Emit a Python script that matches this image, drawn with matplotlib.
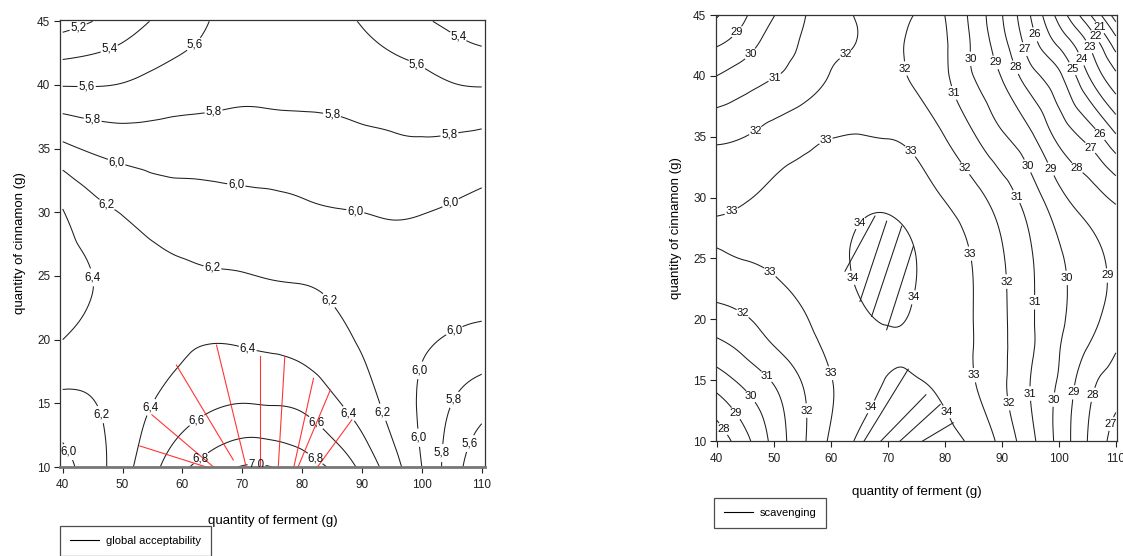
import numpy as np
import matplotlib
matplotlib.use('Agg')
import matplotlib.pyplot as plt
import matplotlib.tri as mtri
from matplotlib.lines import Line2D
from matplotlib.path import Path

plt.rcParams['font.family'] = ['Liberation Sans', 'DejaVu Sans']

# ---------------- data ----------------
ferment = [40, 45, 50, 55, 60, 65, 70, 75, 80, 85, 90, 95, 100, 105, 110]
cinnamon_acc = [10, 15, 20, 25, 30, 35, 40, 45]
cinnamon_scav = [10, 15, 17.5, 20, 25, 30, 35, 40, 42.5, 45]

# global acceptability, rows = cinnamon_acc, columns = ferment
acceptability = [
    [5.94, 6.10, 6.32, 6.54, 6.76, 6.90, 7.01, 7.00, 6.90, 6.77, 6.55, 6.29, 6.00, 5.70, 5.45],
    [6.14, 6.19, 6.29, 6.40, 6.50, 6.57, 6.60, 6.59, 6.56, 6.44, 6.30, 6.13, 5.97, 5.80, 5.68],
    [6.40, 6.33, 6.30, 6.30, 6.36, 6.39, 6.38, 6.36, 6.33, 6.26, 6.18, 6.10, 6.03, 5.98, 5.94],
    [6.46, 6.40, 6.32, 6.27, 6.24, 6.22, 6.21, 6.19, 6.18, 6.15, 6.10, 6.08, 6.07, 6.07, 6.08],
    [6.41, 6.27, 6.19, 6.12, 6.09, 6.075, 6.06, 6.05, 6.03, 6.01, 6.00, 5.985, 5.995, 6.02, 6.05],
    [6.05, 5.97, 5.925, 5.91, 5.91, 5.91, 5.91, 5.90, 5.89, 5.88, 5.86, 5.84, 5.83, 5.85, 5.88],
    [5.59, 5.59, 5.61, 5.66, 5.70, 5.727, 5.75, 5.75, 5.745, 5.737, 5.71, 5.686, 5.66, 5.61, 5.59],
    [5.12, 5.20, 5.30, 5.41, 5.50, 5.61, 5.67, 5.70, 5.68, 5.64, 5.59, 5.51, 5.43, 5.35, 5.27],
]

# scavenging, rows = cinnamon_scav, columns = ferment
scavenging = [
    [27.3, 28.7, 30.3, 31.8, 33.15, 34.15, 34.6, 34.6, 34.3, 33.8, 32.7, 31.3, 29.7, 28.0, 26.6],
    [29.5, 30.3, 31.1, 32.05, 32.95, 33.6, 34.03, 34.02, 33.8, 33.05, 32.2, 31.0, 29.9, 28.4, 27.6],
    [30.6, 31.2, 31.9, 32.55, 33.2, 33.7, 33.88, 33.9, 33.6, 33.0, 32.2, 31.15, 30.05, 28.95, 28.05],
    [31.55, 31.9, 32.45, 32.9, 33.4, 33.85, 34.05, 33.9, 33.5, 33.0, 32.2, 31.15, 30.2, 29.35, 28.6],
    [32.9, 33.02, 33.15, 33.4, 33.7, 34.15, 34.3, 34.0, 33.5, 32.95, 32.1, 31.1, 30.15, 29.4, 28.75],
    [32.85, 32.95, 33.15, 33.35, 33.5, 33.75, 33.8, 33.5, 32.95, 32.35, 31.5, 30.5, 29.3, 28.5, 27.8],
    [31.8, 32.0, 32.4, 32.7, 32.97, 33.03, 32.97, 32.7, 32.0, 31.1, 30.15, 29.2, 27.75, 26.7, 25.15],
    [30.0, 30.5, 30.95, 31.4, 32.05, 32.4, 32.35, 31.8, 31.15, 30.0, 28.95, 27.4, 26.2, 24.1, 22.2],
    [28.95, 29.6, 30.5, 31.1, 31.8, 32.05, 32.3, 31.7, 31.1, 29.85, 28.4, 26.55, 24.9, 23.1, 20.6],
    [27.9, 28.9, 29.95, 30.9, 31.5, 32.1, 32.2, 31.95, 31.0, 29.7, 28.05, 26.0, 23.65, 21.3, 18.5],
]

acc_levels = [5.2, 5.4, 5.6, 5.8, 6.0, 6.2, 6.4, 6.6, 6.8, 7.0]
scav_levels = [17, 18, 19, 20, 21, 22, 23, 24, 25, 26, 27, 28, 29, 30, 31, 32, 33, 34]

x_ticks = [40, 50, 60, 70, 80, 90, 100, 110]
y_ticks = [10, 15, 20, 25, 30, 35, 40, 45]

# red optimum-region lines (left chart)
red_x0 = [52.9, 54.9, 59.0, 65.7, 73.0, 77.1, 81.9, 84.7, 88.3]
red_y0 = [11.65, 14.1, 18.0, 19.57, 18.7, 18.65, 16.96, 16.04, 13.7]
red_x1 = [67.0, 65.7, 68.5, 70.7, 73.0, 76.0, 78.5, 79.1, 82.4]
red_y1 = [9.55, 9.8, 10.55, 9.9, 9.9, 9.9, 9.76, 9.76, 9.9]

# hatch lines in the >34 regions (right chart)
hatch_x0 = [67.77, 69.82, 72.46, 74.5, 73.6, 76.7, 79.2, 81.5]
hatch_y0 = [28.48, 28.06, 27.65, 26.0, 15.9, 13.8, 13.0, 11.5]
hatch_x1 = [62.51, 65.14, 67.19, 69.82, 65.6, 68.4, 71.7, 75.4]
hatch_y1 = [23.95, 21.47, 20.24, 19.14, 9.8, 9.8, 9.8, 9.8]

# contour label anchors: (ferment, cinnamon, level)
acc_labels = [(42.9, 44.1, 5.2), (47.9, 42.7, 5.4), (44.0, 39.5, 5.6), (62.1, 43.1, 5.6),
              (45.0, 37.3, 5.8), (65.2, 38.0, 5.8), (85.0, 37.8, 5.8), (104.6, 36.3, 5.8),
              (49.0, 33.9, 6.0), (69.0, 32.2, 6.0), (88.9, 30.0, 6.0), (104.6, 30.9, 6.0),
              (98.6, 41.0, 5.6), (105.9, 43.6, 5.4), (47.4, 30.7, 6.2), (44.9, 24.9, 6.4),
              (65.0, 25.8, 6.2), (83.9, 22.9, 6.2), (93.5, 14.3, 6.2), (105.2, 21.0, 6.0),
              (100.0, 17.6, 6.0), (99.0, 12.3, 6.0), (105.2, 15.3, 5.8), (103.4, 11.1, 5.8),
              (107.7, 11.9, 5.6), (46.9, 14.2, 6.2), (41.7, 11.3, 6.0), (55.0, 14.6, 6.4),
              (70.8, 19.0, 6.4), (87.7, 14.2, 6.4), (62.7, 13.5, 6.6), (81.9, 13.3, 6.6),
              (63.3, 10.6, 6.8), (82.2, 10.6, 6.8), (72.4, 10.1, 7.0)]
scav_labels = [(43.2, 43.8, 29), (46.4, 41.6, 30), (50.2, 39.8, 31), (47.2, 35.2, 32),
               (63.4, 41.2, 32), (72.5, 40.6, 32), (42.8, 28.7, 33), (59.3, 34.5, 33),
               (73.6, 33.7, 33), (84.4, 41.4, 30), (88.5, 41.0, 29), (91.9, 40.6, 28),
               (93.8, 42.2, 27), (96.2, 43.4, 26), (101.8, 40.4, 25), (103.4, 41.3, 24),
               (105.1, 42.4, 23), (106.6, 43.3, 22), (108.0, 44.2, 21), (81.8, 38.6, 31),
               (84.1, 32.5, 32), (94.1, 32.5, 30), (98.5, 32.3, 29), (103.2, 32.4, 28),
               (105.2, 34.0, 27), (107.3, 35.2, 26), (92.0, 29.9, 31), (65.2, 27.9, 34),
               (62.5, 23.2, 34), (74.4, 21.8, 34), (84.4, 25.4, 33), (91.1, 23.1, 32),
               (96.4, 21.4, 31), (101.5, 23.4, 30), (108.1, 23.6, 29), (49.4, 24.0, 33),
               (44.6, 20.5, 32), (49.0, 15.4, 31), (46.4, 13.8, 30), (43.8, 12.4, 29),
               (41.5, 11.1, 28), (55.6, 12.5, 32), (60.2, 15.6, 33), (67.4, 12.7, 34),
               (80.2, 12.4, 34), (85.0, 15.4, 33), (90.9, 13.1, 32), (95.0, 13.9, 31),
               (98.8, 13.4, 30), (102.5, 14.0, 29), (106.6, 13.7, 28), (108.5, 11.5, 27)]

LINE_COLOR = '#1e1e1e'
W, H = 1123, 556


def smooth_surface(x, y, z):
    X, Y = np.meshgrid(x, y)
    tri = mtri.Triangulation(X.ravel(), Y.ravel())
    interp = mtri.CubicTriInterpolator(tri, np.asarray(z, float).ravel(), kind='min_E')
    xf = np.linspace(x[0], x[-1], 351)
    yf = np.linspace(y[0], y[-1], 351)
    XF, YF = np.meshgrid(xf, yf)
    return XF, YF, interp(XF, YF)


def style_axes(ax, xlim, ylim):
    ax.set_xlim(*xlim)
    ax.set_ylim(*ylim)
    ax.set_xticks(x_ticks)
    ax.set_yticks(y_ticks)
    ax.tick_params(direction='out', length=4, width=0.8, labelsize=8.5, colors='#222222')
    ax.tick_params(axis='x', pad=5)
    ax.tick_params(axis='y', pad=3)
    for s in ax.spines.values():
        s.set_linewidth(0.9)
        s.set_color('#333333')


def put_labels(ax, cs, anchors, fmt, size=8.3):
    """Snap each anchor onto the contour of its own level, then label there."""
    levels = np.asarray(cs.levels, float)
    paths = cs.get_paths()
    pts = []
    for x, y, lev in anchors:
        i = int(np.argmin(np.abs(levels - lev)))
        p = paths[i]
        verts = p.vertices
        if p.codes is not None:
            verts = verts[p.codes != Path.CLOSEPOLY]
        if len(verts) == 0:
            continue
        disp = ax.transData.transform(verts)
        target = ax.transData.transform((x, y))
        j = int(np.argmin(((disp - target) ** 2).sum(axis=1)))
        pts.append((float(verts[j][0]), float(verts[j][1])))
    texts = ax.clabel(cs, manual=pts, inline=True, inline_spacing=1,
                      fontsize=size, fmt=fmt, colors='#111111')
    for t in texts:
        t.set_rotation(0)


fig = plt.figure(figsize=(W / 100, H / 100), dpi=100)

# ---------------- left chart ----------------
ax1 = fig.add_axes([60 / W, 1 - 467 / H, (485 - 60) / W, (467 - 20) / H])
style_axes(ax1, (39.55, 110.55), (10, 45.1))
XF, YF, ZF = smooth_surface(ferment, cinnamon_acc, acceptability)
cs1 = ax1.contour(XF, YF, ZF, levels=acc_levels, colors=LINE_COLOR, linewidths=0.75)
ax1.set_xlim(39.55, 110.55)
ax1.set_ylim(10, 45.1)
put_labels(ax1, cs1, acc_labels, lambda v: f"{v:.1f}".replace('.', ','))
for a, b, c, d in zip(red_x0, red_y0, red_x1, red_y1):
    ax1.plot([a, c], [b, d], color='#ff2020', lw=0.8, alpha=0.9)
ax1.set_xlim(39.55, 110.55)
ax1.set_ylim(10, 45.1)
ax1.spines['bottom'].set_linewidth(2.0)
ax1.spines['bottom'].set_color('#777777')
ax1.set_xlabel('quantity of ferment (g)', fontsize=9.5, labelpad=17)
ax1.set_ylabel('quantity of cinnamon (g)', fontsize=9.5, labelpad=8)
leg1 = ax1.legend(handles=[Line2D([], [], color='k', lw=0.8)], labels=['global acceptability'],
                  loc='upper left', bbox_to_anchor=(60 / W, 1 - 526 / H), bbox_transform=fig.transFigure,
                  fontsize=8, frameon=True, fancybox=False, handlelength=2.6, borderpad=0.9,
                  borderaxespad=0, handletextpad=0.6)
leg1.get_frame().set_edgecolor('#222222')
leg1.get_frame().set_linewidth(0.9)

# ---------------- right chart ----------------
ax2 = fig.add_axes([716 / W, 1 - 441 / H, (1117 - 716) / W, (441 - 15) / H])
style_axes(ax2, (39.9, 110.2), (10, 45))
XF, YF, ZF = smooth_surface(ferment, cinnamon_scav, scavenging)
cs2 = ax2.contour(XF, YF, ZF, levels=scav_levels, colors=LINE_COLOR, linewidths=0.75)
ax2.set_xlim(39.9, 110.2)
ax2.set_ylim(10, 45)
put_labels(ax2, cs2, scav_labels, lambda v: f"{v:.0f}", size=8.0)
for a, b, c, d in zip(hatch_x0, hatch_y0, hatch_x1, hatch_y1):
    ax2.plot([a, c], [b, d], color=LINE_COLOR, lw=0.75)
ax2.set_xlim(39.9, 110.2)
ax2.set_ylim(10, 45)
ax2.set_xlabel('quantity of ferment (g)', fontsize=9.5, labelpad=15)
ax2.set_ylabel('quantity of cinnamon (g)', fontsize=9.5, labelpad=8)
leg2 = ax2.legend(handles=[Line2D([], [], color='k', lw=0.8)], labels=['scavenging'],
                  loc='upper left', bbox_to_anchor=(714 / W, 1 - 498 / H), bbox_transform=fig.transFigure,
                  fontsize=8, frameon=True, fancybox=False, handlelength=2.6, borderpad=0.9,
                  borderaxespad=0, handletextpad=0.6)
leg2.get_frame().set_edgecolor('#222222')
leg2.get_frame().set_linewidth(0.9)

fig.savefig('out.png', dpi=100)
